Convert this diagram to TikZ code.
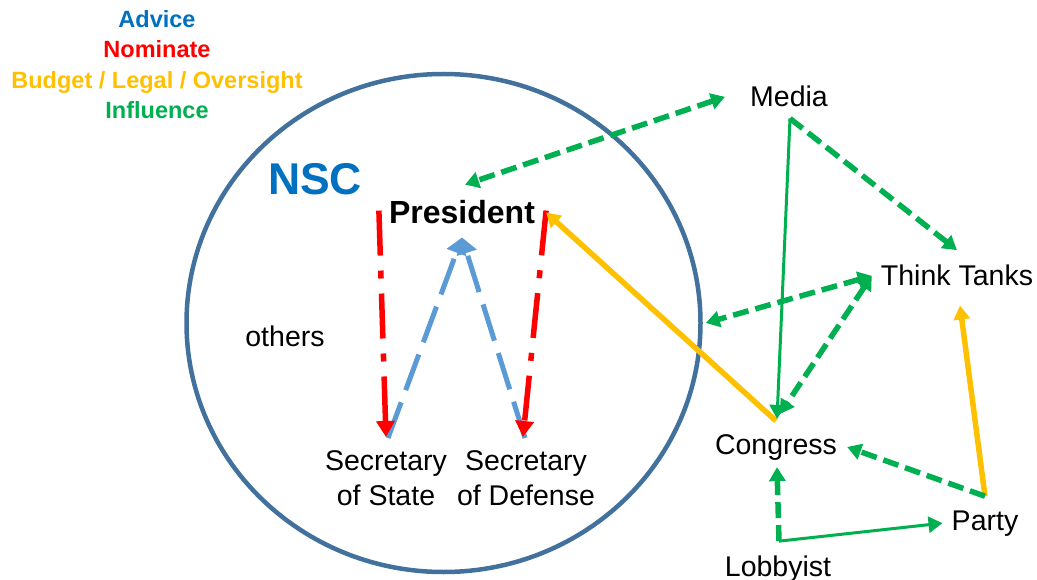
\documentclass[tikz,border=0pt]{standalone}
\usepackage{fontspec}
\setmainfont{Liberation Sans}
\usetikzlibrary{arrows.meta,shapes.geometric}
\definecolor{advice}{HTML}{0070C0}
\definecolor{advicearrow}{HTML}{5B9BD5}
\definecolor{nominate}{HTML}{FF0000}
\definecolor{budget}{HTML}{FFC000}
\definecolor{influence}{HTML}{00B050}
\definecolor{nscring}{HTML}{41719C}
\tikzset{
  txt/.style={font=\fontsize{28.5}{35}\selectfont, inner sep=0pt, anchor=base},
  legend/.style={font=\bfseries\fontsize{23.5}{28}\selectfont, inner sep=0pt, anchor=base},
  infl/.style={draw=influence, line width=5.5pt, dash pattern=on 16pt off 7pt},
  inflsolid/.style={draw=influence, line width=3pt},
  budg/.style={draw=budget, line width=5.5pt},
  nomi/.style={draw=nominate, line width=5.5pt, dash pattern=on 45pt off 15pt on 8pt off 15pt,
    -{Triangle[length=16pt,width=18pt]}},
  adv/.style={draw=advicearrow, line width=5pt, dash pattern=on 38pt off 13pt,
    -{Triangle[length=16pt,width=20pt]}}
}
\begin{document}
\begin{tikzpicture}[x=1pt, y=-1pt, >={Triangle[length=14pt,width=16pt]}]
    \useasboundingbox (0,0) rectangle (1037,580);
    % legend
    \node[legend, text=advice] (legAdvice) at (157,28) {Advice};
    \node[legend, text=nominate] (legNominate) at (157,58) {Nominate};
    \node[legend, text=budget] (legBudget) at (157,89) {Budget / Legal / Oversight};
    \node[legend, text=influence] (legInfluence) at (157,119) {Influence};
    % NSC circle
    \node[ellipse, draw=nscring, line width=4.5pt, minimum width=514pt, minimum height=498pt, inner sep=0pt] (nsc) at (443.5,323) {};
    \node[txt, font=\bfseries\fontsize{44.5}{50}\selectfont, text=advice] (nscname) at (315,195) {NSC};
    \node[txt, font=\bfseries\fontsize{32}{38}\selectfont] (pres) at (462,224) {President};
    \node[txt] (others) at (285,347) {others};
    \node[txt, anchor=north, align=center] (sos) at (386,450) {Secretary\\of State};
    \node[txt, anchor=north, align=center] (sod) at (526,450) {Secretary\\of Defense};
    % outside actors
    \node[txt] (media) at (789,107) {Media};
    \node[txt] (tt) at (957,286) {Think Tanks};
    \node[txt] (cong) at (776,454) {Congress};
    \node[txt] (party) at (985,530) {Party};
    \node[txt] (lob) at (778,576) {Lobbyist};
    % advice
    \draw[adv] ([xshift=2pt,yshift=12pt]sos.north) -- ([yshift=-13pt]pres.south);
    \draw[adv] ([xshift=-1pt,yshift=12pt]sod.north) -- ([yshift=-13pt]pres.south);
    % nominate
    \draw[nomi] ([xshift=-10pt,yshift=2pt]pres.west) -- ([yshift=13pt]sos.north);
    \draw[nomi] ([xshift=11pt,yshift=2pt]pres.east) -- ([xshift=-3pt,yshift=13pt]sod.north);
    % budget / legal / oversight
    \draw[budg, ->] ([yshift=13pt]cong.north) -- ([xshift=11pt]pres.east);
    \draw[budg, ->] ([yshift=14pt]party.north) -- ([xshift=3pt,yshift=-19pt]tt.south);
    % influence
    \draw[infl, <->] ([xshift=-25pt]media.west) -- ([xshift=3pt,yshift=16pt]pres.north);
    \draw[infl, ->] ([xshift=1pt,yshift=-11pt]media.south) -- ([yshift=15pt]tt.north);
    \draw[inflsolid, ->] ([xshift=1pt,yshift=-11pt]media.south) -- ([xshift=1pt,yshift=15pt]cong.north);
    \draw[infl, <->] ([xshift=-9pt]tt.west) -- ([xshift=3pt]nsc.east);
    \draw[infl, <->] ([xshift=-9pt]tt.west) -- ([xshift=4pt,yshift=20pt]cong.north);
    \draw[infl, ->] ([yshift=14pt]party.north) -- ([xshift=10pt]cong.east);
    \draw[infl, ->] ([xshift=1pt,yshift=14pt]lob.north) -- ([xshift=1pt,yshift=-7pt]cong.south);
    \draw[inflsolid, ->] ([xshift=1pt,yshift=14pt]lob.north) -- ([xshift=-9pt]party.west);
\end{tikzpicture}
\end{document}
